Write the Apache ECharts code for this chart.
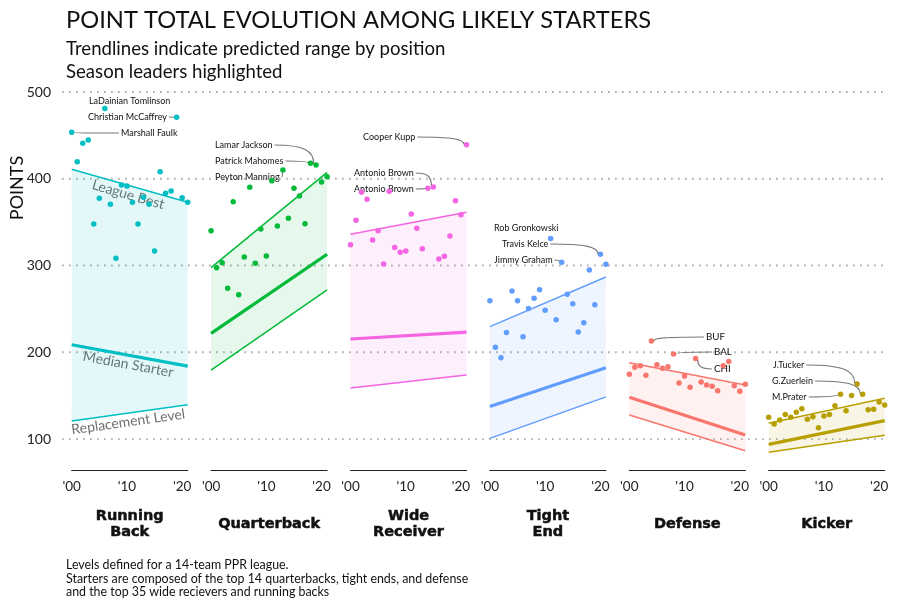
<!DOCTYPE html>
<html><head><meta charset="utf-8">
<script src="https://cdn.jsdelivr.net/npm/echarts@6/dist/echarts.min.js"></script>
<style>html,body{margin:0;padding:0;background:#fff}#main{width:900px;height:608px}</style>
</head><body><div id="main"></div>
<script>
// ---------------- DATA ----------------
const YEARS = [2000,2001,2002,2003,2004,2005,2006,2007,2008,2009,2010,2011,2012,2013,2014,2015,2016,2017,2018,2019,2020,2021];
const YEAR_TICKS = [2000, 2010, 2020];
const Y_TICKS = [100, 200, 300, 400, 500];
const POSITIONS = ['Running\nBack', 'Quarterback', 'Wide\nReceiver', 'Tight\nEnd', 'Defense', 'Kicker'];
const COLORS = ['#00BFC4', '#00BA38', '#F564E3', '#619CFF', '#F8766D', '#B79F00'];

const rbPoints  = [453.5,419.7,441,444.7,347.8,377.5,481,370.6,308.3,392.8,391.6,373,347.8,378.6,370.6,316.7,408,383.2,385.9,471,378.2,373];
const qbPoints  = [340.1,297.5,303.2,273.7,373.6,266.4,309.8,390.1,302.6,342,311,397.8,345.6,410.1,354.4,389,380.1,348.2,417.8,415.9,396.3,402.4];
const wrPoints  = [324,352.1,384.4,376.3,329.4,340.1,301.7,385.5,320.9,315.2,316.7,359.4,342.9,319.4,389,390.5,307.5,310.6,333.9,374.7,358.6,439.3];
const tePoints  = [259.4,205.7,193.7,222.9,270.6,259.4,217.9,250.6,262.2,272.1,248.3,331,237.5,303.7,266.8,256,223.3,234.1,294.8,254.9,312.9,301.4];
const defPoints = [174.6,182.6,184.5,173.4,213,185.7,181.5,183.4,198,164.6,172.6,159.6,192.7,165.7,162.2,160.7,155.7,184.5,189.5,161.5,155,163.1];
const kPoints   = [125,117.3,121.9,128.4,125,130.8,134.9,122.7,125.8,113.1,126.5,128.4,138.4,151.5,132.6,150.2,163.4,151.5,133.8,134.2,142.6,139.2];
const POINTS = [rbPoints, qbPoints, wrPoints, tePoints, defPoints, kPoints];

// trend lines: [value at first season, value at last season]
const upperTrend  = [[411,373],[297.5,407.4],[336,361.3],[229.6,286.7],[188,162.3],[118.1,146.9]];
const medianTrend = [[208.7,184],[221.8,313],[215.3,223.3],[137.4,182.2],[148.1,104.6],[93.8,121.2]];
const lowerTrend  = [[120.7,139.5],[179.5,271.8],[158.8,173.8],[100.8,148.6],[127.7,86.6],[84.7,104.3]];
const RB_LINE_NAMES = ['League Best', 'Median Starter', 'Replacement Level'];

// season leaders: [name, season]
const rbLeaders  = [['LaDainian Tomlinson',2006],['Christian McCaffrey',2019],['Marshall Faulk',2000]];
const qbLeaders  = [['Lamar Jackson',2019],['Patrick Mahomes',2018],['Peyton Manning',2013]];
const wrLeaders  = [['Cooper Kupp',2021],['Antonio Brown',2015],['Antonio Brown',2014]];
const teLeaders  = [['Rob Gronkowski',2011],['Travis Kelce',2020],['Jimmy Graham',2013]];
const defLeaders = [['BUF',2004],['BAL',2008],['CHI',2012]];
const kLeaders   = [['J.Tucker',2016],['G.Zuerlein',2017],['M.Prater',2013]];
const LEADERS = [rbLeaders, qbLeaders, wrLeaders, teLeaders, defLeaders, kLeaders];

// ---------------- LAYOUT ----------------
const FONT = 'Lato, "Open Sans", sans-serif';
const PANEL_X0 = 71.7, PANEL_STEP = 139.4, PANEL_W = 116, TOP = 92, PLOT_H = 378.7;
const Y_MIN = 63.5, Y_MAX = 500;
// label anchor (left x, middle y) in pixels for each leader
const LEADER_LABEL_POS = [
  [[89,101],[88,117],[121,133]],
  [[215,145],[215,161],[215,177]],
  [[363,137],[354,173],[354,189]],
  [[494,228],[502,244],[494,260]],
  [[706,337],[714,352],[714,369]],
  [[773,365],[772,381],[772,397]]
];

function rgba(hex, a) {
  const n = parseInt(hex.slice(1), 16);
  return `rgba(${(n>>16)&255},${(n>>8)&255},${n&255},${a})`;
}

const chart = echarts.init(document.getElementById('main'));
const grids = [], xAxes = [], yAxes = [], series = [];

// background grid with y labels & dotted grid lines
grids.push({left: 62, right: 12, top: TOP, height: PLOT_H});
xAxes.push({gridIndex: 0, type: 'value', min: 0, max: 1, show: false});
yAxes.push({gridIndex: 0, type: 'value', min: Y_MIN, max: Y_MAX,
  axisLine: {show: false}, axisTick: {show: false}, splitLine: {show: false},
  axisLabel: {customValues: Y_TICKS, margin: 11, fontSize: 14, color: '#222', fontFamily: FONT}});
series.push({type: 'custom', xAxisIndex: 0, yAxisIndex: 0, silent: true, z: 0,
  data: Y_TICKS.map(v => [v]), encode: {y: 0},
  renderItem: (params, api) => {
    const a = api.coord([0, api.value(0)]), b = api.coord([1, api.value(0)]);
    return {type: 'line', shape: {x1: a[0], y1: a[1], x2: b[0], y2: b[1]},
      style: {stroke: '#b3b3b3', lineWidth: 1.8, lineDash: [1.8, 5.2]}};
  }});

POSITIONS.forEach((p, i) => {
  const gi = i + 1, color = COLORS[i];
  const y0 = YEARS[0], y1 = YEARS[YEARS.length - 1];
  grids.push({left: PANEL_X0 + PANEL_STEP * i, width: PANEL_W, top: TOP, height: PLOT_H});
  xAxes.push({gridIndex: gi, type: 'value', min: y0, max: y1, interval: 10,
    axisLine: {show: true, lineStyle: {color: '#222', width: 1.2}},
    axisTick: {show: false}, splitLine: {show: false},
    axisLabel: {customValues: YEAR_TICKS, fontSize: 13.5, color: '#222', margin: 9, fontFamily: FONT,
      formatter: v => YEAR_TICKS.includes(v) ? "'" + String(v).slice(2) : ''}});
  yAxes.push({gridIndex: gi, type: 'value', min: Y_MIN, max: Y_MAX, show: false});

  series.push({type: 'custom', xAxisIndex: gi, yAxisIndex: gi, silent: true, z: 1,
    data: [[y0, lowerTrend[i][0], upperTrend[i][0], y1, lowerTrend[i][1], upperTrend[i][1]]],
    encode: {x: [0, 3], y: [1, 2, 4, 5]},
    renderItem: (params, api) => {
      const a = api.coord([api.value(0), api.value(1)]);
      const b = api.coord([api.value(3), api.value(4)]);
      const c = api.coord([api.value(3), api.value(5)]);
      const d = api.coord([api.value(0), api.value(2)]);
      return {type: 'polygon', shape: {points: [a, b, c, d]}, style: {fill: rgba(color, 0.1)}};
    }});
  [[upperTrend, 1.5], [medianTrend, 3.2], [lowerTrend, 1.5]].forEach(([t, w]) => {
    series.push({type: 'line', xAxisIndex: gi, yAxisIndex: gi, silent: true, z: 2,
      data: [[y0, t[i][0]], [y1, t[i][1]]], symbol: 'none',
      lineStyle: {color: color, width: w}});
  });
  series.push({type: 'scatter', xAxisIndex: gi, yAxisIndex: gi, z: 3,
    data: YEARS.map((y, j) => [y, POINTS[i][j]]), symbolSize: 5.5,
    itemStyle: {color: color, opacity: 1}});
});

chart.setOption({animation: false, grid: grids, xAxis: xAxes, yAxis: yAxes, series: series});

// ---------------- TEXT & ANNOTATIONS ----------------
const ctx = document.createElement('canvas').getContext('2d');
function textW(t, size) { ctx.font = size + 'px ' + FONT; return ctx.measureText(t).width; }

const g = [];
g.push({type: 'text', x: 66, y: 20, style: {text: 'POINT TOTAL EVOLUTION AMONG LIKELY STARTERS', font: '23.7px ' + FONT, fill: '#111', verticalAlign: 'middle'}});
g.push({type: 'text', x: 66, y: 49, style: {text: 'Trendlines indicate predicted range by position', font: '18.6px ' + FONT, fill: '#111', verticalAlign: 'middle'}});
g.push({type: 'text', x: 66, y: 72, style: {text: 'Season leaders highlighted', font: '18.6px ' + FONT, fill: '#111', verticalAlign: 'middle'}});
g.push({type: 'text', x: 17, y: 188, rotation: Math.PI / 2, style: {text: 'POINTS', font: '18px ' + FONT, fill: '#111', align: 'center', verticalAlign: 'middle'}});
['Levels defined for a 14-team PPR league.',
 'Starters are composed of the top 14 quarterbacks, tight ends, and defense',
 'and the top 35 wide recievers and running backs'].forEach((t, k) => {
  g.push({type: 'text', x: 66, y: 565 + k * 13.5, style: {text: t, font: '12.4px ' + FONT, fill: '#111', verticalAlign: 'middle'}});
});
POSITIONS.forEach((p, i) => {
  g.push({type: 'text', x: PANEL_X0 + PANEL_STEP * i + PANEL_W / 2, y: 524,
    style: {text: p, font: 'bold 14.5px "DejaVu Sans", sans-serif', fill: '#111', stroke: '#111', lineWidth: 0.5,
      align: 'center', verticalAlign: 'middle', lineHeight: 16}});
});

// RB trend line labels, placed along each line
[upperTrend, medianTrend, lowerTrend].forEach((t, k) => {
  const a = chart.convertToPixel({gridIndex: 1}, [YEARS[0], t[0][0]]);
  const b = chart.convertToPixel({gridIndex: 1}, [YEARS[YEARS.length - 1], t[0][1]]);
  const ang = Math.atan2(b[1] - a[1], b[0] - a[0]);
  const mx = (a[0] + b[0]) / 2 - 1.5, my = (a[1] + b[1]) / 2 + 9;
  g.push({type: 'text', x: mx, y: my, rotation: -ang,
    style: {text: RB_LINE_NAMES[k], font: '14px ' + FONT, fill: '#6f6f6f', align: 'center', verticalAlign: 'middle'}});
});

// leader labels + connectors
LEADERS.forEach((list, i) => {
  list.forEach(([name, yr], k) => {
    const val = POINTS[i][YEARS.indexOf(yr)];
    const P = chart.convertToPixel({gridIndex: i + 1}, [yr, val]);
    const [lx, ly] = LEADER_LABEL_POS[i][k];
    const size = i === 4 ? 9.8 : 9;
    const w = textW(name, size);
    g.push({type: 'text', x: lx, y: ly, style: {text: name, font: size + 'px ' + FONT, fill: '#111', verticalAlign: 'middle'}});
    let S = null;
    if (P[0] > lx + w + 2) S = [lx + w + 2, ly];
    else if (P[0] < lx - 2) S = [lx - 2, ly];
    if (S) {
      const dx = P[0] - S[0], dy = P[1] - S[1], len = Math.hypot(dx, dy);
      const E = [P[0] - dx / len * 2.5, P[1] - dy / len * 2.5];
      g.push({type: 'bezierCurve', silent: true, z: 10,
        shape: {x1: S[0], y1: S[1], x2: E[0], y2: E[1],
          cpx1: S[0] + (E[0] - S[0]) * 0.75, cpy1: S[1],
          cpx2: E[0], cpy2: S[1] + (E[1] - S[1]) * 0.3},
        style: {stroke: '#777', lineWidth: 1.2, fill: null}});
    }
  });
});

chart.setOption({graphic: {elements: g}});
</script></body></html>
